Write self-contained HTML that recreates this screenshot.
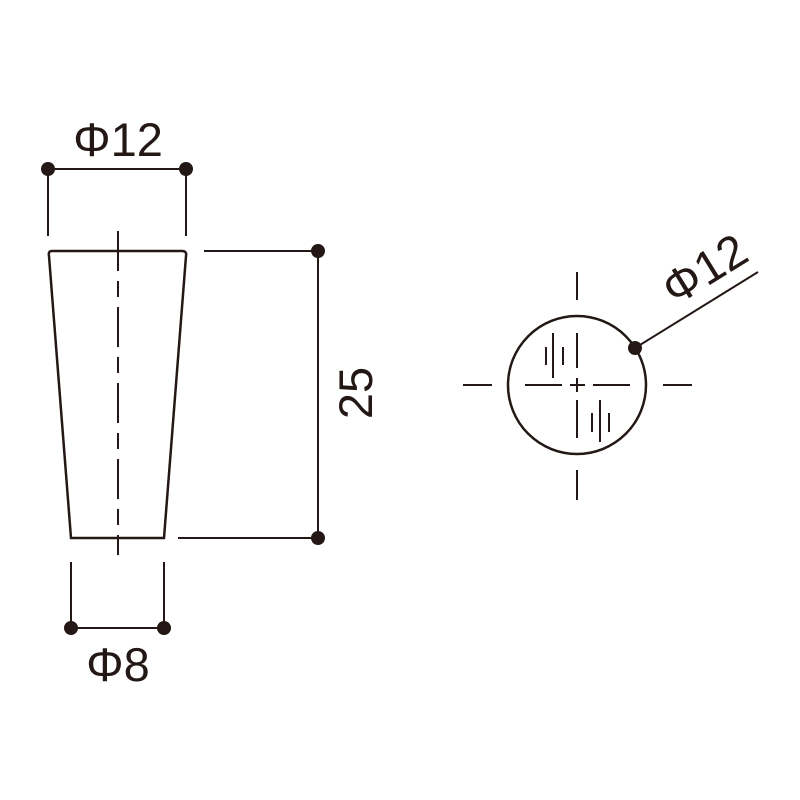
<!DOCTYPE html>
<html><head><style>body{margin:0;background:#fff}svg{display:block}</style></head><body>
<svg width="800" height="800" viewBox="0 0 800 800" xmlns="http://www.w3.org/2000/svg">
<g stroke="#231815" fill="none" stroke-width="2.5">
<path d="M52 251 L182 251 Q187 251 186 256 L164 538 L71 538 L49 256 Q48 251 52 251 Z"/>
<path d="M118 231 V555" stroke-dasharray="40 10 16 10" stroke-width="2"/>
<path d="M48 169 H186 M48 169 V236 M186 169 V236" stroke-width="2"/>
<path d="M204 251 H318 M178 538 H318 M318 251 V538" stroke-width="2"/>
<path d="M71 562 V628 M164 562 V628 M71 628 H164" stroke-width="2"/>
<circle cx="577" cy="385" r="69"/>
<path d="M635 348 L758 272" stroke-width="2"/>
<path d="M577 272 V300 M577 333 V368 M577 378 V392 M577 400 V438 M577 470 V500 M463 385 H492 M525 385 H562 M570 385 H585 M593 385 H630 M663 385 H692" stroke-width="2"/>
<path d="M546 347 V365 M553 333 V378 M563 347 V365 M592 413 V432 M600 400 V442 M609 413 V432" stroke-width="2"/>
</g>
<g fill="#231815">
<circle cx="48" cy="169" r="7"/><circle cx="186" cy="169" r="7"/>
<circle cx="318" cy="251" r="7"/><circle cx="318" cy="538" r="7"/>
<circle cx="71" cy="628" r="7"/><circle cx="164" cy="628" r="7"/>
<circle cx="635" cy="348" r="7"/>
</g>
<g font-family="Liberation Sans, DejaVu Sans, sans-serif" font-size="47" fill="#231815">
<text x="118" y="156" text-anchor="middle">Φ12</text>
<text x="118" y="681" text-anchor="middle">Φ8</text>
<text transform="translate(372,393) rotate(-90)" text-anchor="middle">25</text>
<text transform="translate(713,283) rotate(-31.7)" text-anchor="middle">Φ12</text>
</g>
</svg>
</body></html>
